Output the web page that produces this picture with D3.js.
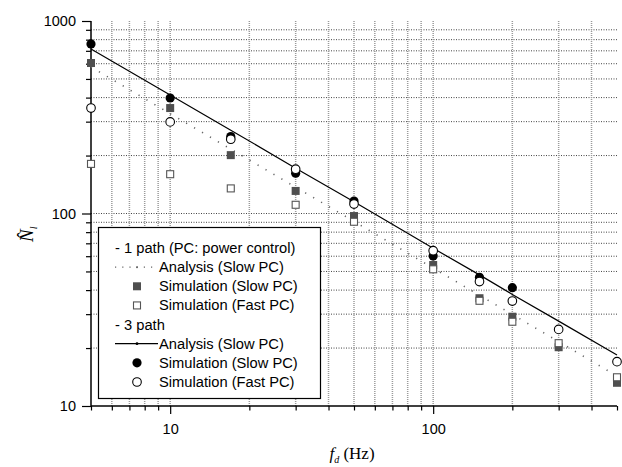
<!DOCTYPE html>
<html>
<head>
<meta charset="utf-8">
<script src="https://cdn.jsdelivr.net/npm/d3@7"></script>
<style>
  body { margin: 0; background: #fff; }
  svg { display: block; }
  .tick text { font-family: "Liberation Sans", Arial, sans-serif; font-size: 14.5px; fill: #000; }
</style>
</head>
<body>
<svg id="chart" width="622" height="467"></svg>
<script>
// doppler frequency (Hz)
let freq = [5, 10, 17, 30, 50, 100, 150, 200, 300, 500];
// 1 path
let path1AnalysisSlow = [577, 330, 216, 137, 91, 52, 37.6, 29.9, 21.6, 14.3];
let path1SimSlow = [605, 353, 201, 131, 97, 54, 36.3, 29.1, 20.2, 13.2];
let path1SimFast = [181, 160, 135, 111, 90.6, 51.3, 35.2, 27.4, 21.2, 14.1];
// 3 path
let path3AnalysisSlow = [716, 413, 271, 172, 115, 66, 48, 38, 27.6, 18.4];
let path3SimSlow = [760, 398, 251, 162, 116, 60.1, 46.6, 41.2, null, null];
let path3SimFast = [353, 299, 243, 170, 112, 64.1, 44.3, 35.1, 25.0, 17.0];

let xMajor = [10, 100];
let xMinor = [5, 6, 7, 8, 9, 20, 30, 40, 50, 60, 70, 80, 90, 200, 300, 400, 500];
let yMajor = [10, 100, 1000];
let yMinor = [20, 30, 40, 50, 60, 70, 80, 90, 200, 300, 400, 500, 600, 700, 800, 900];

let legendRows = [
  {label: '- 1 path (PC: power control)', type: 'header'},
  {label: 'Analysis (Slow PC)', type: 'dotline'},
  {label: 'Simulation (Slow PC)', type: 'graysq'},
  {label: 'Simulation (Fast PC)', type: 'opensq'},
  {label: '- 3 path', type: 'header'},
  {label: 'Analysis (Slow PC)', type: 'solidline'},
  {label: 'Simulation (Slow PC)', type: 'blackcirc'},
  {label: 'Simulation (Fast PC)', type: 'opencirc'}
];

let svg = d3.select('#chart');
let plotL = 91, plotR = 617, plotT = 21, plotB = 406;

let xScale = d3.scaleLog().domain([5, 500]).range([plotL, plotR]);
let yScale = d3.scaleLog().domain([10, 1000]).range([plotB, plotT]);

// grid lines
let grid = svg.append('g');
grid.selectAll('line.h')
  .data(yMinor.concat([100]))
  .enter().append('line')
    .attr('x1', plotL).attr('x2', plotR)
    .attr('y1', d => yScale(d)).attr('y2', d => yScale(d))
    .attr('stroke', '#444').attr('stroke-width', 1)
    .attr('stroke-dasharray', '1,1.5');
grid.selectAll('line.v')
  .data(xMinor.concat([10, 100]).filter(d => d != 5 && d != 500))
  .enter().append('line')
    .attr('y1', plotT).attr('y2', plotB)
    .attr('x1', d => xScale(d)).attr('x2', d => xScale(d))
    .attr('stroke', '#9a9a9a').attr('stroke-width', 1.5)
    .attr('stroke-dasharray', '1,1');

// axes
let fmt = d3.format('d');
svg.append('g')
  .attr('transform', `translate(0, ${plotB})`)
  .call(d3.axisBottom(xScale).tickValues(xMinor).tickSize(4.5).tickSizeOuter(0).tickFormat(''))
  .call(g => g.select('.domain').remove());
svg.append('g')
  .attr('transform', `translate(0, ${plotB})`)
  .call(d3.axisBottom(xScale).tickValues(xMajor).tickSize(8).tickSizeOuter(0).tickFormat(fmt))
  .call(g => g.selectAll('.tick text').attr('dy', '1.15em'))
  .call(g => g.select('.domain').remove());
svg.append('g')
  .attr('transform', `translate(${plotL}, 0)`)
  .call(d3.axisLeft(yScale).tickValues(yMinor).tickSize(5).tickSizeOuter(0).tickFormat(''))
  .call(g => g.select('.domain').remove());
svg.append('g')
  .attr('transform', `translate(${plotL}, 0)`)
  .call(d3.axisLeft(yScale).tickValues(yMajor).tickSize(9).tickSizeOuter(0).tickFormat(fmt))
  .call(g => g.selectAll('.tick text').attr('x', -15))
  .call(g => g.select('.domain').remove());
svg.selectAll('.tick line').attr('stroke', '#000').attr('stroke-width', 1.2);

svg.append('line')
  .attr('x1', plotL).attr('x2', plotL).attr('y1', plotT).attr('y2', plotB + 0.5)
  .attr('stroke', '#000').attr('stroke-width', 1.5);
svg.append('line')
  .attr('x1', plotL).attr('x2', plotR).attr('y1', plotB).attr('y2', plotB)
  .attr('stroke', '#000').attr('stroke-width', 1.5);

// analysis curves
let rows = freq.map((f, i) => ({
  f: f,
  a1: path1AnalysisSlow[i], s1: path1SimSlow[i], q1: path1SimFast[i],
  a3: path3AnalysisSlow[i], s3: path3SimSlow[i], q3: path3SimFast[i]
}));

let line1 = d3.line().x(d => xScale(d.f)).y(d => yScale(d.a1));
let line3 = d3.line().x(d => xScale(d.f)).y(d => yScale(d.a3));

svg.append('path').datum(rows)
  .attr('d', line1)
  .attr('fill', 'none').attr('stroke', '#666').attr('stroke-width', 1.6)
  .attr('stroke-dasharray', '1.2,8');
svg.append('path').datum(rows)
  .attr('d', line3)
  .attr('fill', 'none').attr('stroke', '#000').attr('stroke-width', 1.2);

// markers
let sq = 8;
svg.append('g').selectAll('rect')
  .data(rows)
  .enter().append('rect')
    .attr('x', d => xScale(d.f) - sq / 2).attr('y', d => yScale(d.s1) - sq / 2)
    .attr('width', sq).attr('height', sq)
    .attr('fill', '#4f4f4f');
svg.append('g').selectAll('rect')
  .data(rows)
  .enter().append('rect')
    .attr('x', d => xScale(d.f) - sq / 2 + 0.5).attr('y', d => yScale(d.q1) - sq / 2 + 0.5)
    .attr('width', sq - 1).attr('height', sq - 1)
    .attr('fill', '#fff').attr('stroke', '#555').attr('stroke-width', 1.1);
svg.append('g').selectAll('circle')
  .data(rows.filter(d => d.s3 != null))
  .enter().append('circle')
    .attr('cx', d => xScale(d.f)).attr('cy', d => yScale(d.s3))
    .attr('r', 4.6)
    .attr('fill', '#000');
svg.append('g').selectAll('circle')
  .data(rows)
  .enter().append('circle')
    .attr('cx', d => xScale(d.f)).attr('cy', d => yScale(d.q3))
    .attr('r', 4.3)
    .attr('fill', '#fff').attr('stroke', '#000').attr('stroke-width', 1.1);

// legend
let lg = svg.append('g');
lg.append('rect')
  .attr('x', 98.5).attr('y', 227.5).attr('width', 222).attr('height', 171)
  .attr('fill', '#fff').attr('stroke', '#000').attr('stroke-width', 1.2);

let rowY = d3.scaleLinear().domain([0, 7]).range([248, 382]);
legendRows.forEach(function(r, i) {
  let cy = rowY(i);
  let tx = r.type == 'header' ? 115 : 159;
  lg.append('text')
    .attr('x', tx).attr('y', cy + 5)
    .attr('font-family', '"Liberation Sans", Arial, sans-serif')
    .attr('font-size', '14.7px')
    .text(r.label);
  if (r.type == 'dotline') {
    lg.append('line').attr('x1', 115).attr('x2', 155).attr('y1', cy).attr('y2', cy)
      .attr('stroke', '#666').attr('stroke-width', 1.4).attr('stroke-dasharray', '1.2,6');
    lg.append('circle').attr('cx', 137).attr('cy', cy).attr('r', 1).attr('fill', '#666');
  } else if (r.type == 'solidline') {
    lg.append('line').attr('x1', 115).attr('x2', 158).attr('y1', cy).attr('y2', cy)
      .attr('stroke', '#000').attr('stroke-width', 1.2);
    lg.append('circle').attr('cx', 137).attr('cy', cy).attr('r', 1.4).attr('fill', '#000');
  } else if (r.type == 'graysq') {
    lg.append('rect').attr('x', 133).attr('y', cy - 4).attr('width', 8).attr('height', 8)
      .attr('fill', '#4f4f4f');
  } else if (r.type == 'opensq') {
    lg.append('rect').attr('x', 133.5).attr('y', cy - 3.5).attr('width', 7).attr('height', 7)
      .attr('fill', '#fff').attr('stroke', '#555').attr('stroke-width', 1.1);
  } else if (r.type == 'blackcirc') {
    lg.append('circle').attr('cx', 137).attr('cy', cy).attr('r', 4.6).attr('fill', '#000');
  } else if (r.type == 'opencirc') {
    lg.append('circle').attr('cx', 137).attr('cy', cy).attr('r', 4.3)
      .attr('fill', '#fff').attr('stroke', '#000').attr('stroke-width', 1.1);
  }
});

// axis titles
let xt = svg.append('text')
  .attr('x', 352).attr('y', 459)
  .attr('text-anchor', 'middle')
  .attr('font-family', '"Liberation Serif", "Times New Roman", serif')
  .attr('font-size', '17px');
xt.append('tspan').attr('font-style', 'italic').text('f');
xt.append('tspan').attr('font-style', 'italic').attr('font-size', '10px').attr('dy', 4).text('d');
xt.append('tspan').attr('dy', -4).text(' (Hz)');

let yt = svg.append('text')
  .attr('transform', 'translate(33, 242) rotate(-90)')
  .attr('font-family', '"Liberation Serif", "Times New Roman", serif')
  .attr('font-size', '19px');
yt.append('tspan').attr('font-style', 'italic').text('N\u0302');
yt.append('tspan').attr('font-style', 'italic').attr('font-size', '10px').attr('dy', 4).text('l');
</script>
</body>
</html>
